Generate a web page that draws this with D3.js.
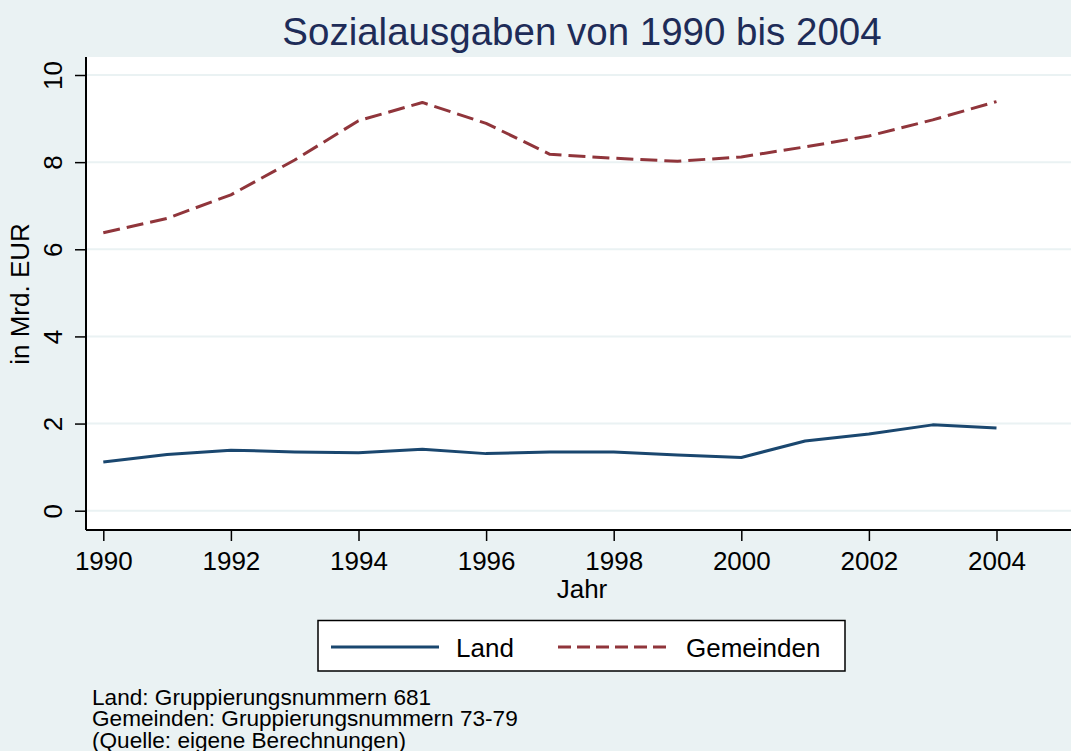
<!DOCTYPE html>
<html>
<head>
<meta charset="utf-8">
<script src="https://cdn.jsdelivr.net/npm/d3@7"></script>
<style>
  body { margin: 0; background: #eaf2f3; }
  svg { display: block; font-family: "Liberation Sans", Arial, sans-serif; }
  .grid line { stroke: #eaf2f3; stroke-width: 2; }
  .axis path, .axis line { stroke: #000; }
  .line { fill: none; stroke-width: 3; stroke-linejoin: round; }
</style>
</head>
<body>
<svg id="chart" width="1071" height="751"></svg>
<script>
const years = [1990, 1991, 1992, 1993, 1994, 1995, 1996, 1997, 1998, 1999, 2000, 2001, 2002, 2003, 2004];
const land = [1.12, 1.29, 1.39, 1.35, 1.33, 1.41, 1.31, 1.35, 1.35, 1.28, 1.22, 1.60, 1.76, 1.97, 1.90];
const gemeinden = [6.38, 6.71, 7.25, 8.05, 8.95, 9.37, 8.89, 8.18, 8.09, 8.02, 8.12, 8.35, 8.60, 8.97, 9.39];
const xTicks = [1990, 1992, 1994, 1996, 1998, 2000, 2002, 2004];
const yTicks = [0, 2, 4, 6, 8, 10];
const footnotes = [
  "Land: Gruppierungsnummern 681",
  "Gemeinden: Gruppierungsnummern 73-79",
  "(Quelle: eigene Berechnungen)"
];

const colors = { land: "#1a476f", gem: "#90353b" };

const plot = { left: 86, top: 57, right: 1071, bottom: 530 };

const svg = d3.select("#chart");

const x = d3.scaleLinear().domain([1990, 2004]).range([103.3, 996.5]);
const y = d3.scaleLinear().domain([0, 10]).range([510.7, 75]);

// plot region
svg.append("rect")
  .attr("x", plot.left)
  .attr("y", plot.top)
  .attr("width", plot.right - plot.left)
  .attr("height", plot.bottom - plot.top)
  .attr("fill", "#fff");

// grid
svg.append("g")
  .attr("class", "grid")
  .selectAll("line")
  .data(yTicks)
  .join("line")
  .attr("x1", plot.left)
  .attr("x2", plot.right)
  .attr("y1", d => y(d))
  .attr("y2", d => y(d));

// title
svg.append("text")
  .attr("x", 582)
  .attr("y", 44.5)
  .attr("text-anchor", "middle")
  .attr("font-size", 38.5)
  .attr("fill", "#1e2c58")
  .text("Sozialausgaben von 1990 bis 2004");

// y axis
const yAxis = svg.append("g")
  .attr("class", "axis")
  .attr("transform", `translate(${plot.left},0)`)
  .call(d3.axisLeft(y).tickValues(yTicks).tickSize(11).tickSizeOuter(0).tickPadding(0));
yAxis.select(".domain")
  .attr("d", `M0,${plot.top}V${plot.bottom}`)
  .attr("stroke-width", 2);
yAxis.selectAll(".tick line").attr("stroke-width", 1.5);
yAxis.selectAll(".tick text")
  .attr("x", null)
  .attr("dy", null)
  .attr("font-size", 26)
  .attr("fill", "#000")
  .attr("text-anchor", "middle")
  .attr("transform", "translate(-24,0) rotate(-90)");

// x axis
const xAxis = svg.append("g")
  .attr("class", "axis")
  .attr("transform", `translate(0,${plot.bottom})`)
  .call(d3.axisBottom(x).tickValues(xTicks).tickFormat(d3.format("d")).tickSize(11).tickSizeOuter(0));
xAxis.select(".domain")
  .attr("d", `M${plot.left},0H${plot.right}`)
  .attr("stroke-width", 2);
xAxis.selectAll(".tick line").attr("stroke-width", 1.5);
xAxis.selectAll(".tick text")
  .attr("y", 40)
  .attr("dy", null)
  .attr("font-size", 26)
  .attr("fill", "#000");

// axis titles
svg.append("text")
  .attr("x", 582)
  .attr("y", 598)
  .attr("text-anchor", "middle")
  .attr("font-size", 26)
  .text("Jahr");

svg.append("text")
  .attr("transform", "translate(29,294) rotate(-90)")
  .attr("text-anchor", "middle")
  .attr("font-size", 26)
  .text("in Mrd. EUR");

// lines
const line = d3.line()
  .x((d, i) => x(years[i]))
  .y(d => y(d));

svg.append("path")
  .datum(land)
  .attr("class", "line")
  .attr("stroke", colors.land)
  .attr("d", line);

svg.append("path")
  .datum(gemeinden)
  .attr("class", "line")
  .attr("stroke", colors.gem)
  .attr("stroke-dasharray", "17,7")
  .attr("d", line);

// legend
const legend = svg.append("g");
legend.append("rect")
  .attr("x", 318)
  .attr("y", 620.5)
  .attr("width", 527)
  .attr("height", 50.5)
  .attr("fill", "#fff")
  .attr("stroke", "#000")
  .attr("stroke-width", 1.5);

const legendItems = [
  { name: "Land", color: colors.land, dash: null, x0: 331, x1: 439, tx: 456 },
  { name: "Gemeinden", color: colors.gem, dash: "13,6", x0: 558, x1: 667, tx: 686 }
];
legendItems.forEach(it => {
  legend.append("line")
    .attr("x1", it.x0).attr("x2", it.x1)
    .attr("y1", 647).attr("y2", 647)
    .attr("stroke", it.color)
    .attr("stroke-width", 3)
    .attr("stroke-dasharray", it.dash);
  legend.append("text")
    .attr("x", it.tx)
    .attr("y", 657)
    .attr("font-size", 26)
    .text(it.name);
});

// notes
svg.append("g")
  .selectAll("text")
  .data(footnotes)
  .join("text")
  .attr("x", 92)
  .attr("y", (d, i) => 704.5 + i * 21.5)
  .attr("font-size", 22.6)
  .text(d => d);
</script>
</body>
</html>
